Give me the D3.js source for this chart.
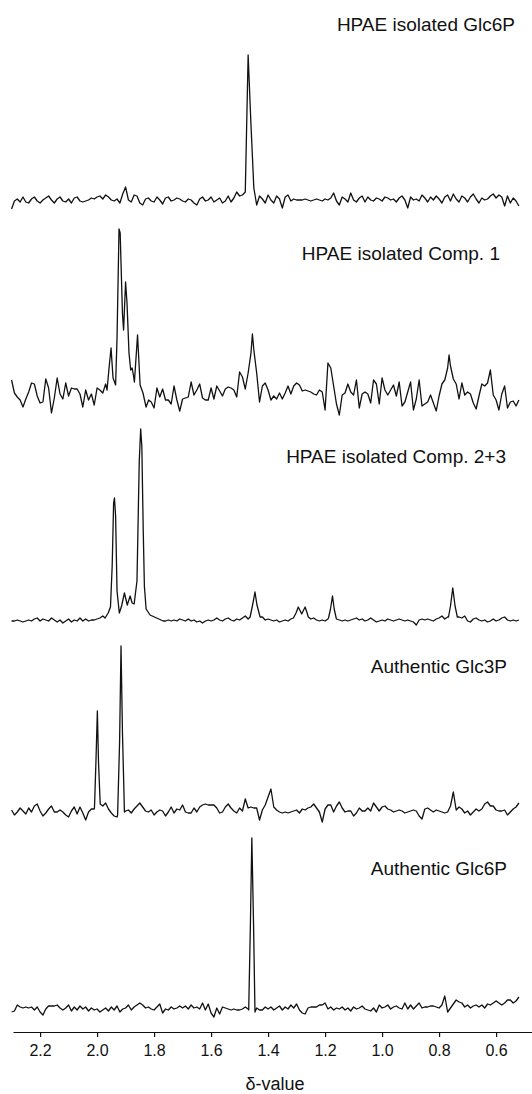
<!DOCTYPE html>
<html>
<head>
<meta charset="utf-8">
<script src="https://cdn.jsdelivr.net/npm/d3@7"></script>
<style>
  body { margin: 0; background: #fff; }
</style>
</head>
<body>
<script>
// shift grid shared by every trace: 2.30 ppm downwards, one sample per 0.01 ppm
let ppmStart = 2.30;
let ppmStep = 0.01;
let tickValues = [2.2, 2.0, 1.8, 1.6, 1.4, 1.2, 1.0, 0.8, 0.6];
let axisTitle = "δ-value";
let traceNames = ["HPAE isolated Glc6P", "HPAE isolated Comp. 1", "HPAE isolated Comp. 2+3",
                  "Authentic Glc3P", "Authentic Glc6P"];

// intensities (a.u.) on the grid
let glc6pIsolated = [
  -9, -1, 1, -2, 3, -2, -3, 1, 3, -1,
  -3, 0, 2, 4, 0, -3, 1, 3, -1, -2,
  1, -3, 2, 3, -1, -2, -1, 0, 2, 1,
  3, 4, 1, 5, 3, 0, -1, 1, -3, 6,
  13, 0, -2, 5, 4, -3, -5, 1, 2, -1,
  -2, 3, 0, -4, 2, 3, -1, 0, 2, 1,
  -1, -2, 1, 0, -3, -5, 1, 3, -1, 0,
  3, -2, 0, 2, -3, -1, 4, -2, 2, 8,
  4, 5, 8, 145, 75, 12, -5, 4, 1, -3,
  5, 0, -3, 4, 1, -8, 3, 5, -1, 1,
  0, 0, 0, 1, 0, -1, 0, 1, 0, -1,
  1, 0, 2, 7, -1, -5, 3, 1, -2, 7,
  0, -2, 2, 4, -2, 3, 0, -1, 2, 1,
  -1, 3, 2, 0, 1, -2, 2, 4, 0, -8,
  3, 0, 1, -1, 5, 2, -2, 3, 0, 4,
  1, -3, 3, 5, -1, 6, 1, -2, 4, 2,
  -2, 3, 6, 1, -3, 2, 0, 1, 4, 6,
  2, 5, 3, -6, 4, -3, 2, -1, -6
];
let comp1Isolated = [
  18, 5, 1, -2, -9, -1, 6, 15, 14, 2,
  -5, -4, 19, 10, -15, 0, 20, 4, -1, 15,
  2, 10, 9, 9, 4, -9, 8, -2, 4, -7,
  10, 8, 5, 14, 10, 40, 15, 100, 160, 90,
  100, 35, 25, 20, 50, 12, 2, -8, -3, -4,
  -10, 10, 1, 9, -2, -2, -6, 12, -2, -13,
  -1, 0, 1, 16, 3, 8, 14, 0, -2, -2,
  10, -1, 12, 7, 2, 9, 11, 10, 8, 1,
  26, 21, 9, 25, 45, 48, 25, -4, 12, 15,
  8, -2, 2, -1, 5, -1, 5, 12, 4, 12,
  15, 13, 7, 8, 7, 6, 4, 3, 8, 6,
  -12, 35, 30, 12, -6, -17, 3, 5, 14, 6,
  3, 18, -10, 4, 6, 4, -5, 18, 14, -6,
  20, 8, 3, 8, 13, 2, 16, -8, -4, 6,
  16, -12, -1, 18, -8, -6, -4, 3, -5, -13,
  2, 14, 18, 30, 32, 19, 14, -1, 15, 3,
  6, 4, -5, -11, 2, 14, 12, 15, 28, 3,
  -2, -12, 4, 12, -10, -4, -3, -8, -2
];
let comp23Isolated = [
  0, 0, 1, 0, -1, 0, 1, 0, 2, 3,
  0, 2, 1, 0, 3, 1, -1, 1, -2, 0,
  2, -1, 1, 0, 3, 0, 2, 0, 1, 1,
  2, 3, 5, 8, 20, 120, 40, 10, 25, 18,
  20, 17, 40, 180, 100, 12, 6, 5, 4, 3,
  2, 1, 1, 0, 0, 1, 0, 1, 0, 2,
  1, 0, 2, 0, 1, -1, 0, -2, 0, 1,
  0, 1, 3, 1, 0, 2, 3, 1, 0, 2,
  1, 3, 5, 2, 18, 29, 16, 4, 4, 1,
  2, 1, 0, 1, -1, 0, 1, 0, 2, 3,
  14, 7, 14, 8, 4, 2, 3, 1, 0, 1,
  0, 2, 12, 25, 2, 1, 0, 1, 0, 1,
  2, 3, 1, 2, 0, 1, 3, 1, -1, 0,
  1, 0, 2, 1, 0, 1, 2, 1, 0, 1,
  0, -1, -4, 1, 2, 1, 2, 1, 0, 2,
  3, 5, 2, 4, 15, 33, 15, 4, 3, 5,
  0, -1, 2, 3, 1, 0, 1, -1, 0, 2,
  0, 1, 3, 4, 1, 0, 1, 0, 1
];
let glc3pAuthentic = [
  2, -3, 0, 4, 1, -2, 4, 0, 6, 8,
  1, -4, -1, 3, 6, 0, 0, 2, 0, -3,
  -5, 1, 5, -2, 5, -1, -8, 0, 3, 3,
  101, 8, 6, 9, 3, -1, -4, -5, 166, 0,
  1, 2, -1, 3, 6, 9, 5, 1, 0, 2,
  -3, 0, 2, 1, -4, 0, 5, -1, 3, 2,
  7, 0, -1, -1, 4, 0, 5, 7, 8, 7,
  7, 7, 4, -1, 0, 5, 8, 4, 1, -1,
  4, 1, 13, 4, 5, 4, 4, -8, 2, 7,
  15, 23, 5, 2, 0, -1, 0, -1, 0, 1,
  2, -1, 3, 2, 4, 5, 8, 4, 0, -10,
  3, 7, 7, 0, 6, 10, 4, 0, 1, 1,
  -4, -1, 4, 1, 1, 4, 1, 9, 5, 1,
  5, 6, 3, 2, 0, 1, 2, 1, -1, 0,
  1, 2, 1, -4, -7, 3, 4, 2, 0, 2,
  1, 0, -1, 0, 6, 20, 2, 5, 3, -1,
  1, -3, 0, 3, 1, 3, 8, 10, 6, 6,
  2, 1, 1, 2, -3, 0, 3, 5, 9
];
let glc6pAuthentic = [
  -2, -1, 5, 3, 2, 3, 2, 3, 0, 3,
  -2, -5, 1, 4, 4, 4, 5, 2, 0, 2,
  5, -1, 3, 0, 4, 1, 3, -1, 2, 0,
  1, -2, 0, 2, -1, 3, 0, 4, -2, 1,
  2, 5, 0, 3, 5, 7, 5, 2, 3, 1,
  0, 3, 6, -3, 1, 0, 3, 1, 2, 4,
  2, 4, 1, 5, 2, 3, 1, 7, 0, 6,
  -3, -7, 2, -4, 3, 2, 1, 0, 1, 0,
  0, 1, 3, 1, 86, 86, 2, 0, 0, 3,
  1, 3, 0, 2, 4, 0, 3, 1, 5, 2,
  6, 0, -3, -4, 2, 3, 3, 3, 5, 5,
  7, 1, 3, 0, 2, 1, 3, 0, 2, -1,
  3, 1, 2, 4, 1, 0, -1, 2, -2, 5,
  2, 3, 5, 1, 3, 4, 2, 1, 7, 1,
  5, 1, 4, 7, 2, 3, 3, 4, 4, 3,
  2, 5, 14, -2, 2, 6, 10, 8, 7, 3,
  5, 2, 4, 5, 3, 5, 2, 6, 5, 7,
  9, 7, 5, 7, 10, 10, 7, 9, 13
];

// finer [ppm, intensity] readings over the sharp signals; each group replaces the grid over its span
let glc6pIsolatedPeaks = [];
let comp1Peaks = [
  [[1.965, 8], [1.958, 30], [1.951, 50], [1.944, 20], [1.935, 13], [1.930, 60], [1.923, 169],
   [1.919, 165], [1.911, 85], [1.907, 68], [1.900, 116], [1.895, 95], [1.888, 45], [1.882, 28],
   [1.877, 30], [1.872, 22], [1.869, 16], [1.858, 63], [1.849, 13], [1.839, 5], [1.828, -9], [1.819, -2]],
  [[1.455, 64]],
  [[0.765, 43]]
];
let comp23Peaks = [
  [[1.972, 3], [1.961, 8], [1.953, 14], [1.947, 55], [1.942, 118], [1.939, 123], [1.935, 105],
   [1.930, 30], [1.922, 8], [1.914, 15], [1.904, 28], [1.894, 16], [1.884, 25], [1.877, 18],
   [1.870, 17], [1.860, 40], [1.852, 160], [1.847, 192], [1.843, 175], [1.838, 90], [1.834, 35],
   [1.828, 12], [1.814, 6], [1.791, 3], [1.768, 0]],
  [[1.463, 4], [1.453, 18], [1.446, 29], [1.439, 16], [1.428, 4]],
  [[1.311, 3], [1.302, 8], [1.294, 14], [1.282, 7], [1.270, 14], [1.263, 8], [1.259, 4]],
  [[1.188, 3], [1.181, 12], [1.174, 25], [1.168, 12], [1.161, 3]],
  [[0.767, 4], [0.760, 15], [0.752, 33], [0.744, 15], [0.736, 4]]
];
let glc3pPeaks = [
  [[2.009, 5], [2.004, 50], [1.999, 101], [1.995, 50], [1.989, 8]],
  [[1.928, -3], [1.921, 70], [1.916, 166], [1.911, 80], [1.904, 0]]
];
let glc6pAuthenticPeaks = [
  [[1.468, 0], [1.462, 86], [1.457, 172], [1.451, 86], [1.446, -2]]
];

let traces = [
  [glc6pIsolated, glc6pIsolatedPeaks],
  [comp1Isolated, comp1Peaks],
  [comp23Isolated, comp23Peaks],
  [glc3pAuthentic, glc3pPeaks],
  [glc6pAuthentic, glc6pAuthenticPeaks]
];

let buildSeries = function(grid, groups) {
  let pts = grid.map((v, i) => [ppmStart - i * ppmStep, v]);
  groups.forEach(g => {
    let hi = d3.max(g, d => d[0]), lo = d3.min(g, d => d[0]);
    pts = pts.filter(p => p[0] > hi + 1e-9 || p[0] < lo - 1e-9);
    pts = pts.concat(g);
  });
  return pts.sort((a, b) => b[0] - a[0]);
};

// layout
let width = 532, height = 1094;
let fontFamily = '"Liberation Sans", Arial, Helvetica, sans-serif';
let baselines = [200, 398, 621, 812, 1010];
let labelPos = [[515, 31], [500, 260], [506, 463], [507, 673], [507, 875]];
let axisY = 1032;

let svg = d3.select("body")
            .append("svg")
            .attr("width", width)
            .attr("height", height);

let x = d3.scaleLinear()
          .domain([2.295, 0.474])
          .range([13, 532]);

traces.forEach((t, k) => {
  let y = d3.scaleLinear()
            .domain([0, 200])
            .range([baselines[k], baselines[k] - 200]);

  let lineSpec = d3.line()
                   .x(d => x(d[0]))
                   .y(d => y(d[1]));

  svg.append("path")
     .datum(buildSeries(t[0], t[1]))
     .attr("fill", "none")
     .attr("stroke", "#111")
     .attr("stroke-width", 1.3)
     .attr("stroke-linejoin", "round")
     .attr("d", lineSpec);

  svg.append("text")
     .attr("x", labelPos[k][0])
     .attr("y", labelPos[k][1])
     .attr("text-anchor", "end")
     .attr("font-family", fontFamily)
     .attr("font-size", 19)
     .attr("fill", "#111")
     .text(traceNames[k]);
});

let axis = d3.axisBottom(x)
             .tickValues(tickValues)
             .tickFormat(d3.format(".1f"))
             .tickSize(5)
             .tickSizeOuter(0)
             .tickPadding(8);

let gAxis = svg.append("g")
               .attr("transform", "translate(0," + axisY + ")")
               .call(axis);
gAxis.attr("font-family", fontFamily).attr("font-size", 16);
gAxis.select(".domain").attr("stroke", "#111").attr("stroke-width", 1.2);
gAxis.selectAll(".tick line").attr("stroke", "#111").attr("stroke-width", 1.2);
gAxis.selectAll(".tick text").attr("fill", "#111");

svg.append("text")
   .attr("x", 275)
   .attr("y", 1090)
   .attr("text-anchor", "middle")
   .attr("font-family", fontFamily)
   .attr("font-size", 18)
   .attr("fill", "#111")
   .text(axisTitle);
</script>
</body>
</html>
